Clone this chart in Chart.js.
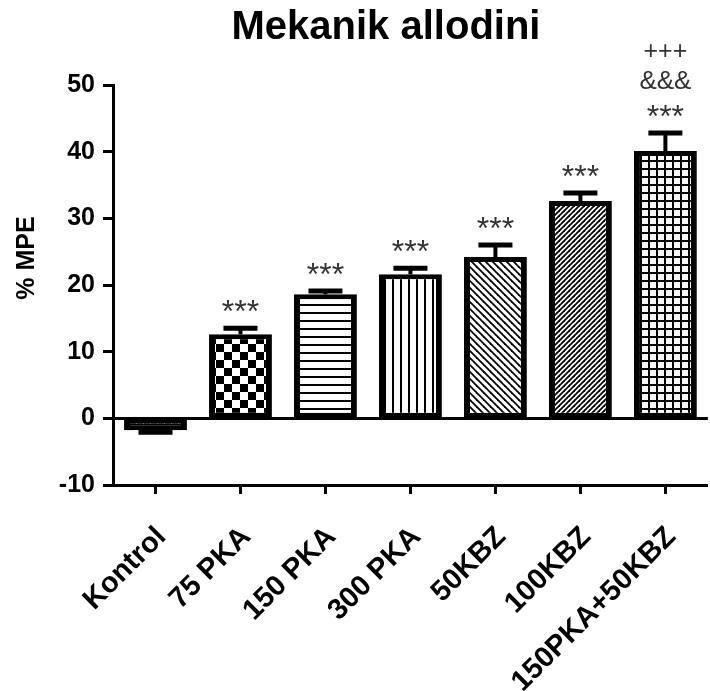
<!DOCTYPE html>
<html>
<head>
<meta charset="utf-8">
<script src="https://cdn.jsdelivr.net/npm/chart.js@4.4.1/dist/chart.umd.min.js"></script>
<style>
  html, body { margin: 0; padding: 0; background: #fff; overflow: hidden; }
  #wrap { width: 716px; height: 691px; }
</style>
</head>
<body>
<div id="wrap"><canvas id="chart" width="716" height="691"></canvas></div>
<script>
// values
const categories = ['Kontrol', '75 PKA', '150 PKA', '300 PKA', '50KBZ', '100KBZ', '150PKA+50KBZ'];
const mpeValues = [-1.8, 12.6, 18.6, 21.6, 24.2, 32.6, 40.1];
const semValues = [0.3, 0.9, 0.5, 0.9, 1.8, 1.2, 2.7];
const starMarks = ['', '***', '***', '***', '***', '***', '***'];
const ampMarks = ['', '', '', '', '', '', '&&&'];
const plusMarks = ['', '', '', '', '', '', '+++'];
const yTicks = [-10, 0, 10, 20, 30, 40, 50];
const patternTypes = ['dots', 'checker', 'hlines', 'vlines', 'backslash', 'slash', 'grid'];

const FONT = '"Liberation Sans", Arial, sans-serif';

// hatch fills like the Prism bars
function makePattern(type) {
  const c = document.createElement('canvas');
  const size = { dots: 7, checker: 16, hlines: 8, vlines: 8, backslash: 7, slash: 5, grid: 8 }[type];
  c.width = size; c.height = size;
  const g = c.getContext('2d');
  g.fillStyle = '#fff';
  g.fillRect(0, 0, size, size);
  g.fillStyle = '#000';
  g.strokeStyle = '#000';
  if (type === 'dots') {
    g.fillRect(0, 0, size, size);
    g.fillStyle = '#fff';
    g.fillRect(2, 1, 3, 2);
    g.fillRect(3, 3, 1, 1);
  } else if (type === 'checker') {
    g.fillRect(0, 0, 8, 8);
    g.fillRect(8, 8, 8, 8);
  } else if (type === 'hlines') {
    g.fillRect(0, 0, size, 2);
  } else if (type === 'vlines') {
    g.fillRect(0, 0, 2, size);
  } else if (type === 'grid') {
    g.fillRect(0, 0, size, 2);
    g.fillRect(0, 0, 2, size);
  } else {
    g.lineWidth = 1.8;
    for (let k = -size; k <= size; k += size) {
      g.beginPath();
      if (type === 'backslash') {
        g.moveTo(k - 1, -1); g.lineTo(k + size + 1, size + 1);
      } else {
        g.moveTo(k - 1, size + 1); g.lineTo(k + size + 1, -1);
      }
      g.stroke();
    }
  }
  return g.createPattern(c, 'repeat');
}

const zeroLine = {
  id: 'zeroLine',
  beforeDatasetsDraw(chart) {
    const { ctx, chartArea, scales: { y } } = chart;
    const py = Math.round(y.getPixelForValue(0)) + 0.5;
    ctx.save();
    ctx.strokeStyle = '#000';
    ctx.lineWidth = 3;
    ctx.beginPath();
    ctx.moveTo(chartArea.left, py);
    ctx.lineTo(chartArea.right, py);
    ctx.stroke();
    ctx.restore();
  }
};

const errorBars = {
  id: 'errorBars',
  afterDatasetsDraw(chart) {
    const { ctx, scales: { y } } = chart;
    const meta = chart.getDatasetMeta(0);
    ctx.save();
    ctx.strokeStyle = '#000';
    meta.data.forEach((bar, i) => {
      const v = mpeValues[i];
      const e = semValues[i];
      const end = y.getPixelForValue(v < 0 ? v - e : v + e);
      ctx.lineWidth = 4;
      ctx.beginPath();
      ctx.moveTo(bar.x, bar.y);
      ctx.lineTo(bar.x, end);
      ctx.stroke();
      ctx.lineWidth = 5;
      ctx.beginPath();
      ctx.moveTo(bar.x - 17, end);
      ctx.lineTo(bar.x + 17, end);
      ctx.stroke();

      // significance marks
      ctx.fillStyle = '#333';
      ctx.textAlign = 'center';
      ctx.textBaseline = 'alphabetic';
      if (starMarks[i]) {
        ctx.font = '32px ' + FONT;
        ctx.fillText(starMarks[i], bar.x, end - 6);
      }
      if (ampMarks[i]) {
        ctx.font = '26px ' + FONT;
        ctx.fillText(ampMarks[i], bar.x, end - 44);
      }
      if (plusMarks[i]) {
        ctx.font = '25px ' + FONT;
        ctx.fillText(plusMarks[i], bar.x, end - 74);
      }
    });
    ctx.restore();
  }
};

const titles = {
  id: 'titles',
  afterDraw(chart) {
    const ctx = chart.ctx;
    ctx.save();
    ctx.fillStyle = '#000';
    ctx.textAlign = 'center';
    ctx.textBaseline = 'alphabetic';
    ctx.font = 'bold 40px ' + FONT;
    ctx.fillText('Mekanik allodini', 386, 39);
    ctx.translate(27, 258);
    ctx.rotate(-Math.PI / 2);
    ctx.textBaseline = 'middle';
    ctx.font = 'bold 25px ' + FONT;
    ctx.fillText('% MPE', 0, 0);
    ctx.restore();
  }
};

new Chart(document.getElementById('chart'), {
  type: 'bar',
  data: {
    labels: categories,
    datasets: [{
      data: mpeValues,
      backgroundColor: patternTypes.map(makePattern),
      borderColor: '#000',
      borderWidth: { left: 6, right: 6, top: 5, bottom: 5 },
      borderSkipped: false,
      barPercentage: 0.74,
      categoryPercentage: 1
    }]
  },
  options: {
    responsive: false,
    animation: false,
    layout: { padding: { top: 85, left: 0, right: 0, bottom: 0 } },
    plugins: { legend: { display: false }, tooltip: { enabled: false } },
    scales: {
      x: {
        afterFit(scale) { scale.height = 206; },
        grid: { drawOnChartArea: false, offset: false, tickLength: 9, tickWidth: 3, tickColor: '#000' },
        border: { display: true, color: '#000', width: 3 },
        ticks: {
          color: '#000',
          font: { family: FONT, size: 29, weight: 'bold' },
          minRotation: 45,
          maxRotation: 45,
          autoSkip: false,
          padding: 26,
          labelOffset: 6
        }
      },
      y: {
        min: yTicks[0],
        max: yTicks[yTicks.length - 1],
        afterFit(scale) { scale.width = 113; },
        afterBuildTicks(scale) { scale.ticks = yTicks.map(v => ({ value: v })); },
        grid: { drawOnChartArea: false, tickLength: 10, tickWidth: 3, tickColor: '#000' },
        border: { display: true, color: '#000', width: 3 },
        ticks: {
          color: '#000',
          padding: 8,
          font: { family: FONT, size: 25, weight: 'bold' }
        }
      }
    }
  },
  plugins: [zeroLine, errorBars, titles]
});
</script>
</body>
</html>
